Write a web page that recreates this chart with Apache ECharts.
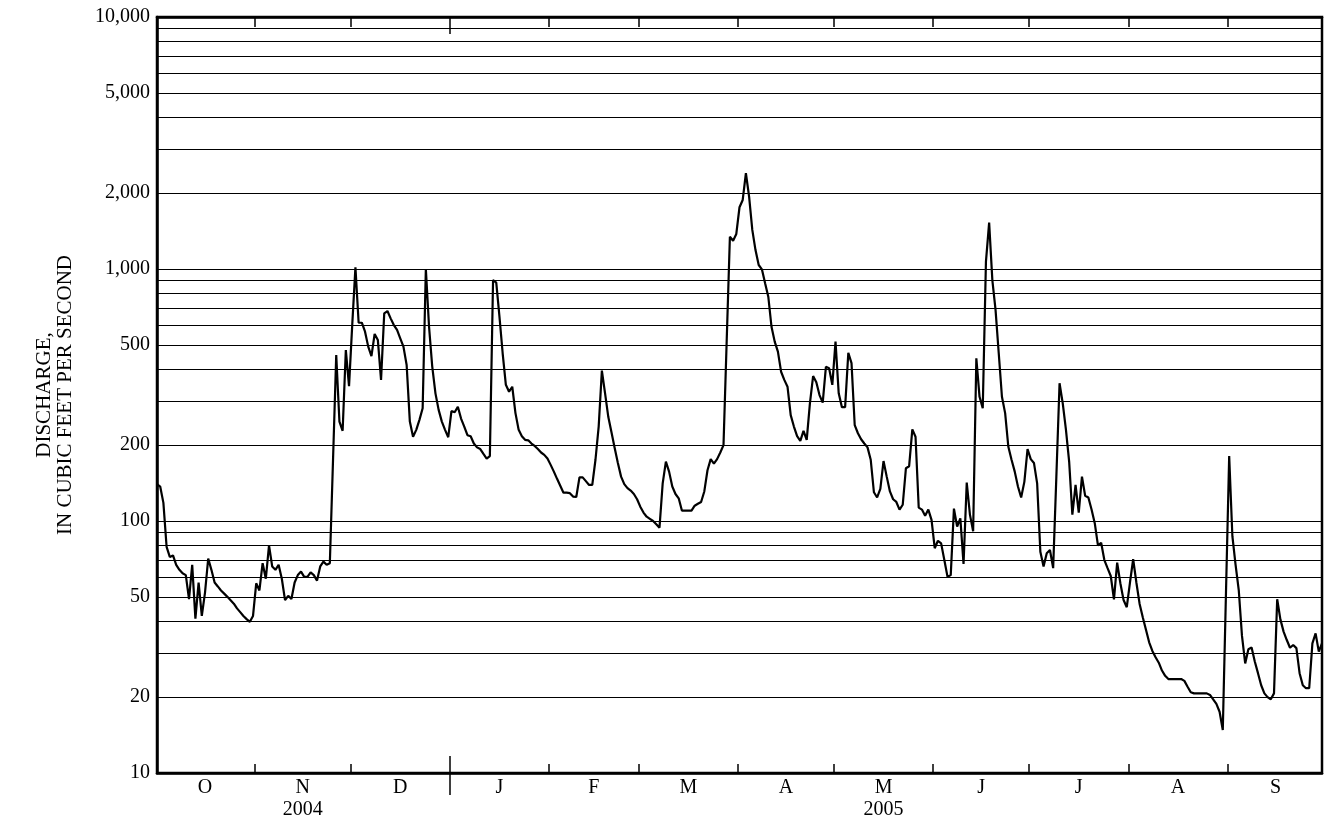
<!DOCTYPE html>
<html>
<head>
<meta charset="utf-8">
<script src="https://cdn.jsdelivr.net/npm/echarts@6/dist/echarts.min.js"></script>
<style>html,body{margin:0;padding:0;background:#fff}#c{width:1325px;height:825px}</style>
</head>
<body>
<div id="c"></div>
<script>
// Daily mean discharge, water year Oct 2004 - Sep 2005 (cubic feet per second)
const octQ = [140,137,118,79,72,73,67,64,62,61,49,67,41,57,42,52,71,64,57,55,53,51.5,50,48.5,47,45,43.5,42,40.8,39.8,42];
const novQ = [56.6,53,68,59,80,66,64,67,59,48.5,50.5,49,57,61,63,60,60,62.5,61,58,66,69,67,68,175,456,248,228,477,343];
const decQ = [600,1016,612,612,564,492,451,552,523,363,667,681,637,599,573,531,492,416,248,216,230,252,280,1000,590,410,321,276,248,230,215];
const janQ = [273,270,284,255,237,219,217,203,196,193,184.5,177,181,904,883,647,463,347,326,341,268,230,217,210,209,203,198.5,193,187,183,177];
const febQ = [167,157,147,138,129.5,129.5,129,125,124.5,149,149,144,139,139,175,237,395,321,259,225,195,170,150,140,135,132,128,122];
const marQ = [114,108,104,102,100,97,94,141,172,157,137,128,123,110,110,110,110,115,117,119,131,159,176,169,176,187,200,520,1343,1295,1377];
const aprQ = [1758,1879,2400,1936,1429,1189,1037,997,877,776,590,515,470,391,363,341,263,237,217,208,228,210,293,376,355,316,295,409,404,347];
const mayQ = [515,321,283,283,465,423,240,223,211,203,196,175,130,124,134,173,150,131,122,119,111,116,162,165,231,216,113,111,105,111,101];
const junQ = [78,83.5,81.5,70,60,61,112,95,102.5,67.5,142,106,91,442,311,280,1069,1527,904,688,463,311,268,197,175,157,137,124,143,193];
const julQ = [176,170,141,75.5,66,74.5,76.7,65,150,352,293,230,172,106,139,108,150,126,124,111,98,80,82,70,65,60.5,48.9,68.4,56.6,48.6,45.5];
const augQ = [57,70.5,57,47,41.5,37,33,30.5,28.8,27.4,25.5,24.3,23.6,23.6,23.6,23.6,23.6,23.2,22,20.9,20.7,20.7,20.7,20.7,20.7,20.4,19.6,18.8,17.5,14.8,52];
const sepQ = [181,87,67,53,35,27.2,31,31.5,27.7,24.9,22.3,20.7,20,19.6,20.7,48.9,40.7,36.4,33.7,31.4,32.2,31.3,24.9,22.3,21.7,21.7,32.7,35.8,30.3,32.7];

const monthLetters = ['O','N','D','J','F','M','A','M','J','J','A','S'];
const yearLabels = ['', '2004', '', '', '', '', '', '2005', '', '', '', ''];
const yLabelValues = [10,20,50,100,200,500,1000,2000,5000,10000];
const yGridValues = [10,20,30,40,50,60,70,80,90,100,200,300,400,500,600,700,800,900,1000,2000,3000,4000,5000,6000,7000,8000,9000,10000];

const months = [octQ,novQ,decQ,janQ,febQ,marQ,aprQ,mayQ,junQ,julQ,augQ,sepQ];
const allQ = [].concat(...months);
const data = allQ.map((v, i) => [i, v]);

// month boundaries (day index) and month centres, from month lengths
const monthStart = [];
let acc = 0;
months.forEach(m => { monthStart.push(acc); acc += m.length; });
const monthTicks = monthStart.slice(1).map(s => s - 0.5);
const monthCenters = months.map((m, i) => monthStart[i] + (m.length - 1) / 2);
const yearTicks = [monthStart[3] - 0.5];

const font = "'Liberation Serif','Times New Roman',Times,serif";
const black = '#000';

const baseX = {
  type: 'value', gridIndex: 0, min: 0, max: allQ.length - 1,
  splitLine: { show: false },
  axisLine: { show: false },
  axisLabel: { show: false },
  axisTick: { show: false }
};

const chart = echarts.init(document.getElementById('c'), null, { renderer: 'canvas' });
chart.setOption({
  animation: false,
  backgroundColor: '#fff',
  grid: { left: 157, right: 3, top: 17, bottom: 52, show: true, borderColor: black, borderWidth: 2.5,
          backgroundColor: 'transparent', containLabel: false, outerBoundsMode: 'none' },
  xAxis: [
    Object.assign({}, baseX, {
      position: 'bottom',
      axisLine: { show: true, onZero: false, lineStyle: { color: black, width: 2.5 } },
      axisTick: { show: true, inside: true, length: 9, customValues: monthTicks, lineStyle: { color: black, width: 1.5 } },
      axisLabel: {
        show: true, customValues: monthCenters, margin: 4,
        color: black, fontFamily: font, fontSize: 20, lineHeight: 22,
        formatter: function (v) {
          const i = monthCenters.indexOf(v);
          if (i < 0) return '';
          return yearLabels[i] ? monthLetters[i] + '\n' + yearLabels[i] : monthLetters[i];
        }
      }
    }),
    Object.assign({}, baseX, {
      position: 'top',
      axisLine: { show: true, onZero: false, lineStyle: { color: black, width: 2.5 } },
      axisTick: { show: true, inside: true, length: 10, customValues: monthTicks, lineStyle: { color: black, width: 1.5 } }
    }),
    Object.assign({}, baseX, {
      position: 'top',
      axisTick: { show: true, inside: true, length: 17, customValues: yearTicks, lineStyle: { color: black, width: 1.5 } }
    }),
    Object.assign({}, baseX, {
      position: 'bottom',
      axisTick: { show: true, inside: true, length: 17, customValues: yearTicks, lineStyle: { color: black, width: 1.5 } }
    }),
    Object.assign({}, baseX, {
      position: 'bottom',
      axisTick: { show: true, inside: false, length: 22, customValues: yearTicks, lineStyle: { color: black, width: 1.5 } }
    })
  ],
  yAxis: {
    type: 'log', logBase: 10, min: 10, max: 10000, position: 'left',
    axisLine: { show: true, onZero: false, lineStyle: { color: black, width: 2.5 } },
    axisTick: { show: false, customValues: yGridValues },
    minorTick: { show: false },
    splitLine: { show: true, lineStyle: { color: black, width: 1.2 } },
    axisLabel: {
      show: true, customValues: yLabelValues, margin: 7,
      color: black, fontFamily: font, fontSize: 20,
      formatter: function (v) { return Math.round(v).toLocaleString('en-US'); }
    },
    name: 'DISCHARGE,\nIN CUBIC FEET PER SECOND',
    nameLocation: 'middle', nameRotate: 90, nameGap: 81,
    nameTextStyle: { color: black, fontFamily: font, fontSize: 21, lineHeight: 21 }
  },
  series: [{
    type: 'line', xAxisIndex: 0, yAxisIndex: 0, data: data,
    showSymbol: false, symbol: 'none', smooth: false,
    lineStyle: { color: black, width: 2.2 }, itemStyle: { color: black },
    z: 5
  }]
});
</script>
</body>
</html>
